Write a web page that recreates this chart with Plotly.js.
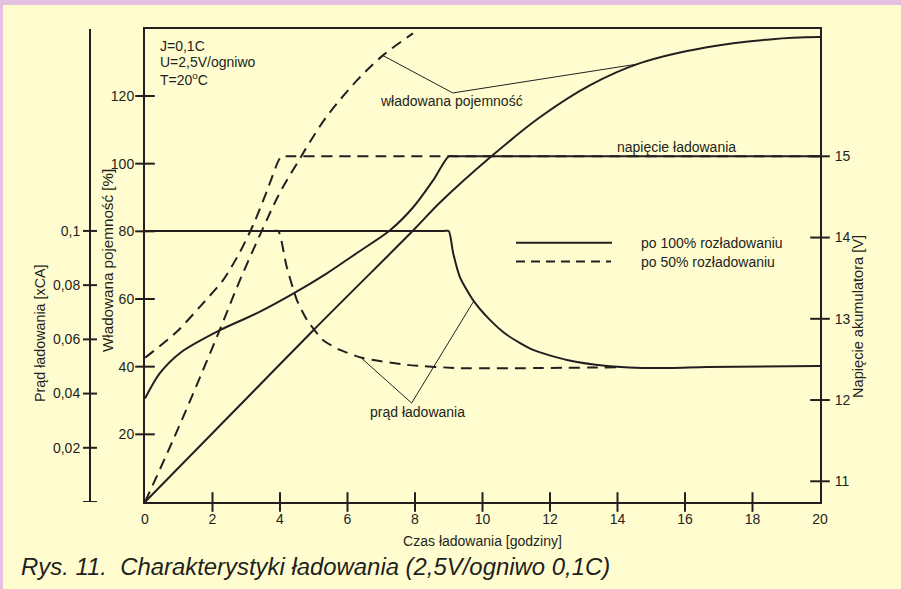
<!DOCTYPE html>
<html><head><meta charset="utf-8">
<script src="https://cdn.plot.ly/plotly-3.0.1.min.js"></script>
<style>html,body{margin:0;padding:0;background:#fffdd0;}#chart{width:901px;height:589px;}</style>
</head><body><div id="chart"></div>
<script>
// ---- data ----
const xTickLabels = [0, 2, 4, 6, 8, 10, 12, 14, 16, 18, 20];
const xTickMarks = [2, 4, 6, 8, 10, 12, 14, 16, 18];
const capTicks = [20, 40, 60, 80, 100, 120];
const curTicks = [0, 0.02, 0.04, 0.06, 0.08, 0.1];
const curLabelVals = [0.02, 0.04, 0.06, 0.08, 0.1];
const curTickText = ['0,02', '0,04', '0,06', '0,08', '0,1'];
const voltTicks = [11, 12, 13, 14, 15];

// władowana pojemność [%]
const t100Cap = [0, 4.98, 7.95, 8.74, 10.22, 11.7, 13.19, 14.67, 16.65, 18.6, 20];
const cap100 = [0, 50.7, 80.3, 88.5, 101.8, 113.7, 123.2, 129.7, 134.4, 136.8, 137.4];
const t50Cap = [0, 0.84, 1.53, 2.22, 2.81, 3.5, 4.0, 4.59, 4.89, 5.39, 6.28, 7.05, 7.94];
const cap50 = [0, 18.5, 34.5, 51, 65.5, 81, 91.5, 101.5, 106.5, 114, 124.6, 132, 138.5];

// napięcie akumulatora [V]
const t100Volt = [0, 0.44, 1.04, 2.22, 3.32, 4.39, 5.39, 6.28, 7.26, 7.94, 8.53, 9.0, 9.15, 20];
const volt100 = [12.02, 12.33, 12.58, 12.86, 13.07, 13.31, 13.56, 13.81, 14.09, 14.37, 14.70, 15.0, 15.0, 15.0];
const t50Volt = [0, 0.94, 1.63, 2.32, 2.81, 3.21, 3.6, 3.96, 4.05, 4.2, 20];
const volt50 = [12.52, 12.84, 13.15, 13.48, 13.82, 14.16, 14.56, 14.95, 15.0, 15.0, 15.0];

// prąd ładowania [xCA]
const t100Cur = [0, 8.85, 9.0, 9.13, 9.33, 9.72, 10.22, 10.73, 11.5, 12.5, 13.69, 15.17, 16.65, 20];
const cur100 = [0.1, 0.1, 0.1, 0.0919, 0.083, 0.0745, 0.0672, 0.0616, 0.0561, 0.0524, 0.0502, 0.0494, 0.0498, 0.0502];
const t50Cur = [0, 3.8, 3.95, 4.2, 4.5, 4.8, 5.27, 5.78, 6.46, 7.76, 9.33, 14.07];
const cur50 = [0.1, 0.1, 0.1, 0.0867, 0.0745, 0.0672, 0.0598, 0.0561, 0.0531, 0.0506, 0.0494, 0.0497];

// leader lines for the curve labels (data coordinates)
const capLeaderX = [7.04, 9.12, 14.57];
const capLeaderY = [132.0, 120.9, 129.4];
const curLeaderX = [6.42, 7.90, 9.73];
const curLeaderY = [0.0530, 0.0365, 0.0739];

const seriesNames = ['po 100% rozładowaniu', 'po 50% rozładowaniu'];
const conditions = ['J=0,1C', 'U=2,5V/ogniwo', 'T=20<sup>o</sup>C'];
const caption = 'Rys. 11.\u00a0\u00a0Charakterystyki ładowania (2,5V/ogniwo 0,1C)';

// ---- style / geometry ----
const INK = '#231f20';
const BG = '#fffdd0';
const PINK = '#e4c1e1';
const FONT = 'Liberation Sans, Arial, Helvetica, sans-serif';
const DASH = '11px,7px';
const X_RANGE = [0, 20];
const X_DOMAIN = [0.15625, 1];
const CUR_POS = 0.0875;              // paper position of the current axis
const TICK_HALF = 7 / 800;           // half tick length in paper units
const capRange = [0, 139.8];
const curRange = [0, 0.1745];
const voltRange = [10.745, 16.567];

function line(x, y, yaxis, dashed, sm) {
  return {x: x, y: y, yaxis: yaxis, type: 'scatter', mode: 'lines', hoverinfo: 'skip',
    line: {color: INK, width: 2, dash: dashed ? DASH : 'solid', shape: 'spline', smoothing: sm}};
}
function tickMarks(x, y, yaxis, symbol) {
  return {x: x, y: y, yaxis: yaxis, type: 'scatter', mode: 'markers', hoverinfo: 'skip', cliponaxis: false,
    marker: {symbol: symbol, size: 14, color: INK, line: {color: INK, width: 2}}};
}

const traces = [
  line(t100Cap, cap100, 'y', false, 1),
  line(t50Cap, cap50, 'y', true, 1),
  line(t100Volt, volt100, 'y3', false, 0.8),
  line(t50Volt, volt50, 'y3', true, 0.8),
  line(t100Cur, cur100, 'y2', false, 0.6),
  line(t50Cur, cur50, 'y2', true, 0.6),
  {x: capLeaderX, y: capLeaderY, yaxis: 'y', type: 'scatter', mode: 'lines', hoverinfo: 'skip', line: {color: INK, width: 1}},
  {x: curLeaderX, y: curLeaderY, yaxis: 'y2', type: 'scatter', mode: 'lines', hoverinfo: 'skip', line: {color: INK, width: 1}},
  // crossing tick marks on the plot-frame axes
  tickMarks(xTickMarks, xTickMarks.map(() => capRange[0]), 'y', 'line-ns-open'),
  tickMarks(capTicks.map(() => X_RANGE[0]), capTicks, 'y', 'line-ew-open'),
  tickMarks(voltTicks.map(() => X_RANGE[1]), voltTicks, 'y3', 'line-ew-open')
];

const base = {showgrid: false, zeroline: false, ticks: '', linecolor: INK, linewidth: 2, fixedrange: true};
function ax(o) { return Object.assign({}, base, o); }

// paper helpers (plot area: x 20..820 px, y 29..502 px)
const px = v => (v - 20) / 800;
const py = v => (502 - v) / 473;

const annotations = [];
conditions.forEach((t, i) => annotations.push({xref: 'paper', yref: 'paper', x: px(158), y: py([46, 62, 79][i]),
  xanchor: 'left', yanchor: 'middle', text: t, showarrow: false, font: {size: 14, color: INK}}));
annotations.push({xref: 'x', yref: 'y', x: 9.07, y: 118.4, xanchor: 'center', yanchor: 'middle', text: 'władowana pojemność', showarrow: false, font: {size: 14, color: INK}});
annotations.push({xref: 'x', yref: 'y2', x: 8.07, y: 0.0332, xanchor: 'center', yanchor: 'middle', text: 'prąd ładowania', showarrow: false, font: {size: 14, color: INK}});
annotations.push({xref: 'x', yref: 'y3', x: 15.75, y: 15.12, xanchor: 'center', yanchor: 'middle', text: 'napięcie ładowania', showarrow: false, font: {size: 14, color: INK}});
seriesNames.forEach((t, i) => annotations.push({xref: 'paper', yref: 'paper', x: px(639), y: py([242.7, 261.5][i]),
  xanchor: 'left', yanchor: 'middle', text: t, showarrow: false, font: {size: 14, color: INK}}));
const rot = {xref: 'paper', yref: 'paper', textangle: -90, xanchor: 'center', yanchor: 'middle', showarrow: false};
annotations.push(Object.assign({}, rot, {x: px(107), y: py(261), text: 'Władowana pojemność [%]', font: {size: 15.2, color: INK}}));
annotations.push(Object.assign({}, rot, {x: px(40), y: py(334), text: 'Prąd ładowania [xCA]', font: {size: 14.3, color: INK}}));
annotations.push(Object.assign({}, rot, {x: px(858), y: py(317), text: 'Napięcie akumulatora [V]', font: {size: 14.6, color: INK}}));
annotations.push({xref: 'paper', yref: 'paper', x: px(19), y: py(566), xanchor: 'left', yanchor: 'middle', text: '<i>' + caption + '</i>', showarrow: false, font: {size: 23.9, color: INK}});

const shapes = [
  {type: 'rect', xref: 'paper', yref: 'paper', x0: px(0), x1: px(901), y0: py(5), y1: py(0), fillcolor: PINK, line: {width: 0}},
  {type: 'rect', xref: 'paper', yref: 'paper', x0: px(0), x1: px(3), y0: py(589), y1: py(0), fillcolor: PINK, line: {width: 0}},
  {type: 'line', xref: 'paper', yref: 'paper', x0: px(516), x1: px(612), y0: py(242.7), y1: py(242.7), line: {color: INK, width: 2}},
  {type: 'line', xref: 'paper', yref: 'paper', x0: px(516), x1: px(611), y0: py(261.5), y1: py(261.5), line: {color: INK, width: 2, dash: '9px,6px'}}
];
// crossing tick marks on the free current axis (values placed through the y2 scale)
curTicks.forEach(v => shapes.push({type: 'line', xref: 'paper', yref: 'y2', x0: CUR_POS - TICK_HALF, x1: CUR_POS + TICK_HALF,
  y0: v, y1: v, line: {color: INK, width: 2}}));

const layout = {
  width: 901, height: 589,
  margin: {l: 20, r: 81, t: 29, b: 87, pad: 0},
  paper_bgcolor: BG, plot_bgcolor: BG,
  font: {family: FONT, size: 14, color: INK},
  showlegend: false,
  xaxis: ax({domain: X_DOMAIN, range: X_RANGE, tickvals: xTickLabels, showline: true, mirror: true, ticklabelstandoff: 3,
    title: {text: 'Czas ładowania [godziny]', standoff: 10, font: {size: 14, color: INK}}}),
  yaxis: ax({range: capRange, tickvals: capTicks, showline: true, ticklabelstandoff: 6}),
  yaxis2: ax({overlaying: 'y', anchor: 'free', position: CUR_POS, side: 'left', range: curRange, tickvals: curLabelVals, ticktext: curTickText, showline: true, ticklabelstandoff: 6}),
  yaxis3: ax({overlaying: 'y', anchor: 'x', side: 'right', range: voltRange, tickvals: voltTicks, showline: true, ticklabelstandoff: 10}),
  annotations: annotations,
  shapes: shapes
};

Plotly.newPlot('chart', traces, layout, {displayModeBar: false, staticPlot: true});
</script></body></html>
